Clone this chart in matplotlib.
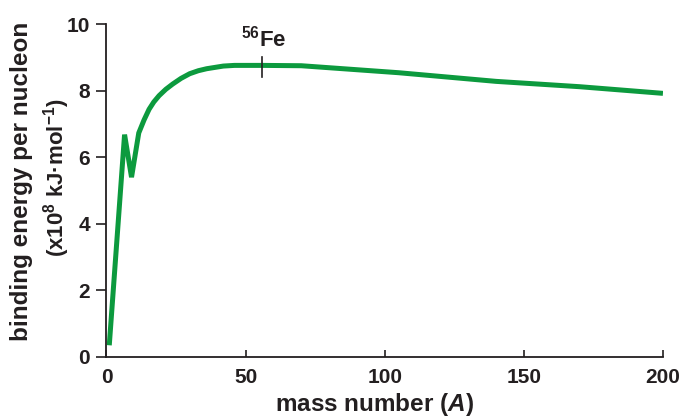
import matplotlib
matplotlib.use('Agg')
import matplotlib.pyplot as plt

# Fonts: Arial-like bold everywhere
plt.rcParams['font.family'] = ['Liberation Sans', 'DejaVu Sans']
plt.rcParams['font.weight'] = 'bold'
plt.rcParams['axes.labelweight'] = 'bold'
plt.rcParams['mathtext.fontset'] = 'custom'
plt.rcParams['mathtext.rm'] = 'Liberation Sans:bold'
plt.rcParams['mathtext.it'] = 'Liberation Sans:bold:italic'
plt.rcParams['mathtext.bf'] = 'Liberation Sans:bold'

# Data
massNumber = [1, 6.5, 9, 11.6, 13.5, 15.3, 17, 18.9, 21.3, 23.8, 26.8, 29.9,
              33, 36, 42, 46, 56, 70, 80, 105, 140, 170, 200]
bindingEnergy = [0.35, 6.68, 5.4, 6.73, 7.12, 7.44, 7.66, 7.85, 8.04, 8.2,
                 8.37, 8.51, 8.6, 8.66, 8.74, 8.76, 8.76, 8.75, 8.69, 8.54,
                 8.28, 8.12, 7.92]
xTicks = [0, 50, 100, 150, 200]
yTicks = [0, 2, 4, 6, 8, 10]
feMass = 56
feLabel = '$^{56}$Fe'

textColor = '#231f20'
lineColor = '#0c9a3e'

fig = plt.figure(figsize=(6.87, 4.16), dpi=100)
ax = fig.add_axes([0.155, 0.142, 0.81, 0.8])

ax.plot(massNumber, bindingEnergy, color=lineColor, lw=3.6,
        solid_capstyle='butt', solid_joinstyle='miter')

# Fe-56 marker
ax.plot([feMass, feMass], [8.42, 9.02], color=textColor, lw=1.2)
ax.text(feMass + 0.5, 9.32, feLabel, ha='center', va='baseline',
        fontsize=16, color=textColor)

ax.set_xlim(0, 200)
ax.set_ylim(0, 10)
ax.set_xticks(xTicks)
ax.set_yticks(yTicks)

for side in ['top', 'right']:
    ax.spines[side].set_visible(False)
for side in ['left', 'bottom']:
    ax.spines[side].set_linewidth(1.3)
    ax.spines[side].set_color(textColor)

ax.tick_params(axis='y', direction='out', length=7, width=1.2,
               labelsize=15, colors=textColor, pad=5)
ax.tick_params(axis='x', direction='in', length=5, width=1.2,
               labelsize=15, colors=textColor, pad=8)

# Axis labels placed by hand to match the reference layout
fig.text(374 / 687, 1 - 404 / 416, 'mass number ($\\mathit{A}$)',
         ha='center', va='center', fontsize=17.5, color=textColor)
fig.text(22 / 687, 1 - 181 / 416, 'binding energy per nucleon',
         ha='center', va='center', rotation=90, fontsize=17.5,
         color=textColor)
fig.text(57 / 687, 1 - 178 / 416, '(x10$^{8}$ kJ·mol$^{-1}$)',
         ha='center', va='center', rotation=90, fontsize=16,
         color=textColor)

plt.savefig('out.png', dpi=100)
